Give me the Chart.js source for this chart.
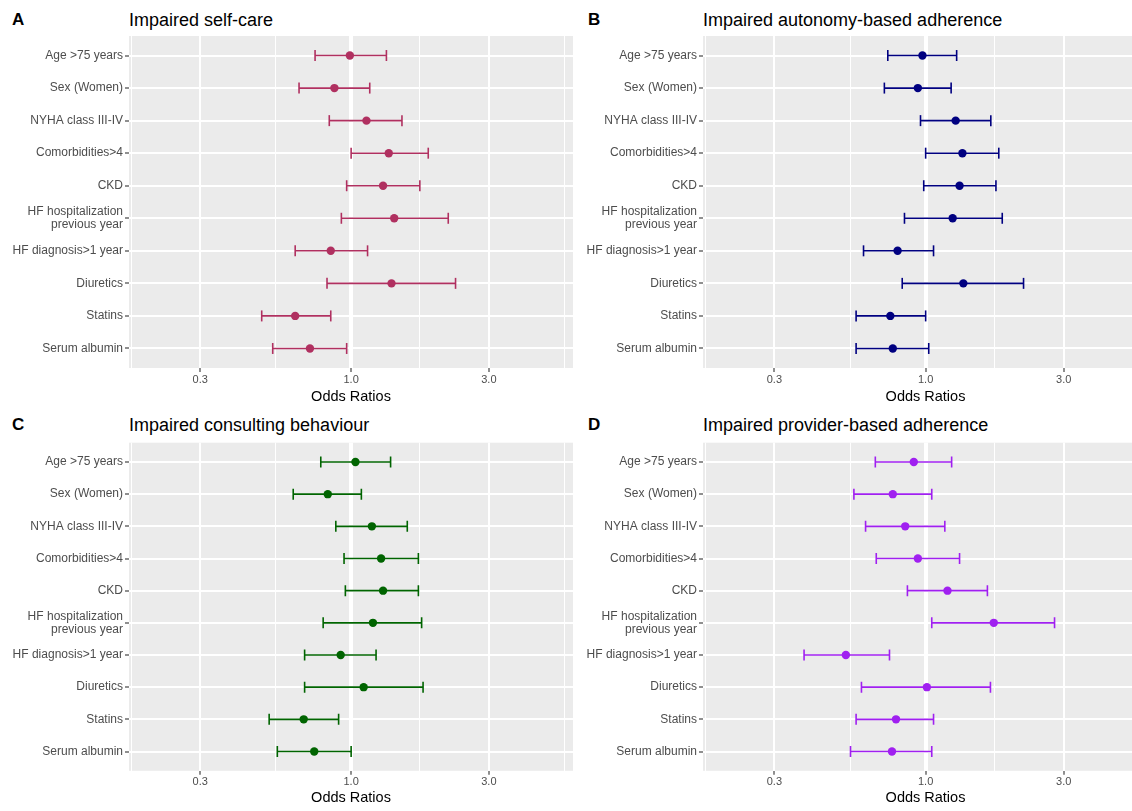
<!DOCTYPE html>
<html>
<head>
<meta charset="utf-8">
<script src="https://cdn.jsdelivr.net/npm/chart.js@4.4.1/dist/chart.umd.min.js"></script>
<style>
html,body{margin:0;padding:0;width:1132px;height:811px;overflow:hidden;background:#fff;position:relative;font-family:"Liberation Sans",Arial,sans-serif;}
.panel{position:absolute;}
.letter{position:absolute;font-weight:bold;font-size:17px;color:#000;line-height:1;white-space:nowrap;}
.ptitle{position:absolute;font-size:18px;color:#000;line-height:1;white-space:nowrap;}
</style>
</head>
<body>
<div class="letter" style="left:12px;top:11px;">A</div>
<div class="ptitle" style="left:129px;top:11px;">Impaired self-care</div>
<div class="letter" style="left:588px;top:11px;">B</div>
<div class="ptitle" style="left:703px;top:11px;">Impaired autonomy-based adherence</div>
<div class="letter" style="left:12px;top:416px;">C</div>
<div class="ptitle" style="left:129px;top:416px;">Impaired consulting behaviour</div>
<div class="letter" style="left:588px;top:416px;">D</div>
<div class="ptitle" style="left:703px;top:416px;">Impaired provider-based adherence</div>

<div class="panel" style="left:0px;top:0px;"><canvas id="cA" width="575" height="405"></canvas></div>
<div class="panel" style="left:575px;top:0px;"><canvas id="cB" width="575" height="405"></canvas></div>
<div class="panel" style="left:0px;top:405px;"><canvas id="cC" width="575" height="405"></canvas></div>
<div class="panel" style="left:575px;top:405px;"><canvas id="cD" width="575" height="405"></canvas></div>

<script>
// ---------- data ----------
const categories = ['Age >75 years','Sex (Women)','NYHA class III-IV','Comorbidities>4','CKD',
  ['HF hospitalization','previous year'],'HF diagnosis>1 year','Diuretics','Statins','Serum albumin'];

const xTickValues = [0.3, 1.0, 3.0];
const xTickLabels = ['0.3', '1.0', '3.0'];
const xMinorGrid = [0.173, 0.548, 1.732, 5.477];
const xMin = 0.170, xMax = 5.87;

// A: Impaired self-care
const selfCareOR    = [0.99, 0.875, 1.13, 1.35, 1.29, 1.41, 0.85, 1.38, 0.64, 0.72];
const selfCareLower = [0.75, 0.66, 0.84, 1.00, 0.965, 0.925, 0.64, 0.825, 0.49, 0.535];
const selfCareUpper = [1.325, 1.16, 1.50, 1.85, 1.73, 2.17, 1.14, 2.30, 0.85, 0.965];

// B: Impaired autonomy-based adherence
const autonomyOR    = [0.975, 0.94, 1.27, 1.34, 1.31, 1.24, 0.80, 1.35, 0.755, 0.77];
const autonomyLower = [0.74, 0.72, 0.96, 1.00, 0.985, 0.845, 0.61, 0.83, 0.575, 0.575];
const autonomyUpper = [1.28, 1.225, 1.68, 1.79, 1.75, 1.84, 1.065, 2.18, 1.00, 1.025];

// C: Impaired consulting behaviour
const consultingOR    = [1.035, 0.83, 1.18, 1.27, 1.29, 1.19, 0.92, 1.105, 0.685, 0.745];
const consultingLower = [0.785, 0.63, 0.885, 0.945, 0.955, 0.80, 0.69, 0.69, 0.52, 0.555];
const consultingUpper = [1.37, 1.085, 1.565, 1.71, 1.71, 1.755, 1.22, 1.775, 0.905, 1.00];

// D: Impaired provider-based adherence
const providerOR    = [0.91, 0.77, 0.85, 0.94, 1.19, 1.72, 0.53, 1.01, 0.79, 0.765];
const providerLower = [0.67, 0.565, 0.62, 0.675, 0.865, 1.05, 0.38, 0.60, 0.575, 0.55];
const providerUpper = [1.23, 1.05, 1.165, 1.31, 1.635, 2.79, 0.75, 1.675, 1.065, 1.05];

// ---------- drawing ----------
const FONT = '"Liberation Sans", Arial, sans-serif';

const panelBg = {
  id: 'panelBg',
  beforeDraw(chart) {
    const {ctx, chartArea: a} = chart;
    ctx.save();
    ctx.fillStyle = '#EBEBEB';
    ctx.fillRect(a.left, a.top, a.right - a.left, a.bottom - a.top);
    ctx.restore();
  }
};

function isMajor(v) { return xTickValues.some(t => Math.abs(t - v) < 1e-6); }

function makePanel(id, color, orv, lo, hi, g) {
  const ci = [];
  const caps = [];
  const pts = [];
  categories.forEach((c, i) => {
    ci.push({x: lo[i], y: i}, {x: hi[i], y: i}, {x: null, y: null});
    caps.push({x: lo[i], y: i}, {x: hi[i], y: i});
    pts.push({x: orv[i], y: i});
  });
  const gridVals = xTickValues.concat(xMinorGrid).sort((a, b) => a - b);

  new Chart(document.getElementById(id), {
    type: 'scatter',
    data: {
      datasets: [
        {type: 'line', data: ci, borderColor: color, borderWidth: 1.6, pointRadius: 0, spanGaps: false, fill: false},
        {data: caps, pointStyle: 'line', pointRotation: 90, pointRadius: 5.5, pointBorderWidth: 1.6,
         pointBorderColor: color, pointBackgroundColor: color, borderColor: color},
        {data: pts, pointStyle: 'circle', pointRadius: 4.2, pointBorderWidth: 0,
         pointBackgroundColor: color, backgroundColor: color, borderColor: color}
      ]
    },
    options: {
      responsive: false,
      animation: false,
      events: [],
      layout: {autoPadding: false, padding: {left: 0, right: 2, top: g.padTop, bottom: 0}},
      plugins: {legend: {display: false}, tooltip: {enabled: false}},
      scales: {
        x: {
          type: 'logarithmic', position: 'bottom', min: xMin, max: xMax,
          afterBuildTicks: s => { s.ticks = gridVals.map(v => ({value: v})); },
          afterFit: s => { s.height = g.axisH; },
          ticks: {
            autoSkip: false, maxRotation: 0, minRotation: 0, padding: 1,
            color: '#4D4D4D', font: {family: FONT, size: 11},
            callback: v => { const k = xTickValues.findIndex(t => Math.abs(t - v) < 1e-6); return k >= 0 ? xTickLabels[k] : ''; }
          },
          grid: {
            color: '#FFFFFF',
            lineWidth: c => { const v = c.tick ? c.tick.value : 0; return Math.abs(v - 1) < 1e-6 ? 4 : (isMajor(v) ? 2 : 1); },
            drawTicks: true, tickLength: 4, tickWidth: 1.1,
            tickColor: c => (c.tick && isMajor(c.tick.value)) ? '#333333' : 'rgba(0,0,0,0)'
          },
          border: {display: false},
          title: {display: true, text: 'Odds Ratios', color: '#000',
                  font: {family: FONT, size: 14.5, lineHeight: 1}, padding: {top: 0, bottom: g.titlePB}}
        },
        y: {
          type: 'linear', min: -0.6, max: 9.6, reverse: true,
          afterBuildTicks: s => { s.ticks = categories.map((c, i) => ({value: i})); },
          afterFit: s => { s.width = g.yW; },
          ticks: {autoSkip: false, padding: 2, color: '#4D4D4D', font: {family: FONT, size: 12, lineHeight: 1.1},
                  callback: v => categories[Math.round(v)]},
          grid: {color: '#FFFFFF', lineWidth: 2, drawTicks: true, tickLength: 4, tickWidth: 1.1, tickColor: '#333333'},
          border: {display: false}
        }
      }
    },
    plugins: [panelBg]
  });
}

makePanel('cA', '#B03060', selfCareOR, selfCareLower, selfCareUpper, {padTop: 36, axisH: 37, titlePB: 1.25, yW: 129});
makePanel('cB', '#000080', autonomyOR, autonomyLower, autonomyUpper, {padTop: 36, axisH: 37, titlePB: 1.25, yW: 128});
makePanel('cC', '#006400', consultingOR, consultingLower, consultingUpper, {padTop: 37.7, axisH: 39.2, titlePB: 4.75, yW: 129});
makePanel('cD', '#A020F0', providerOR, providerLower, providerUpper, {padTop: 37.7, axisH: 39.2, titlePB: 4.75, yW: 128});
</script>
</body>
</html>
